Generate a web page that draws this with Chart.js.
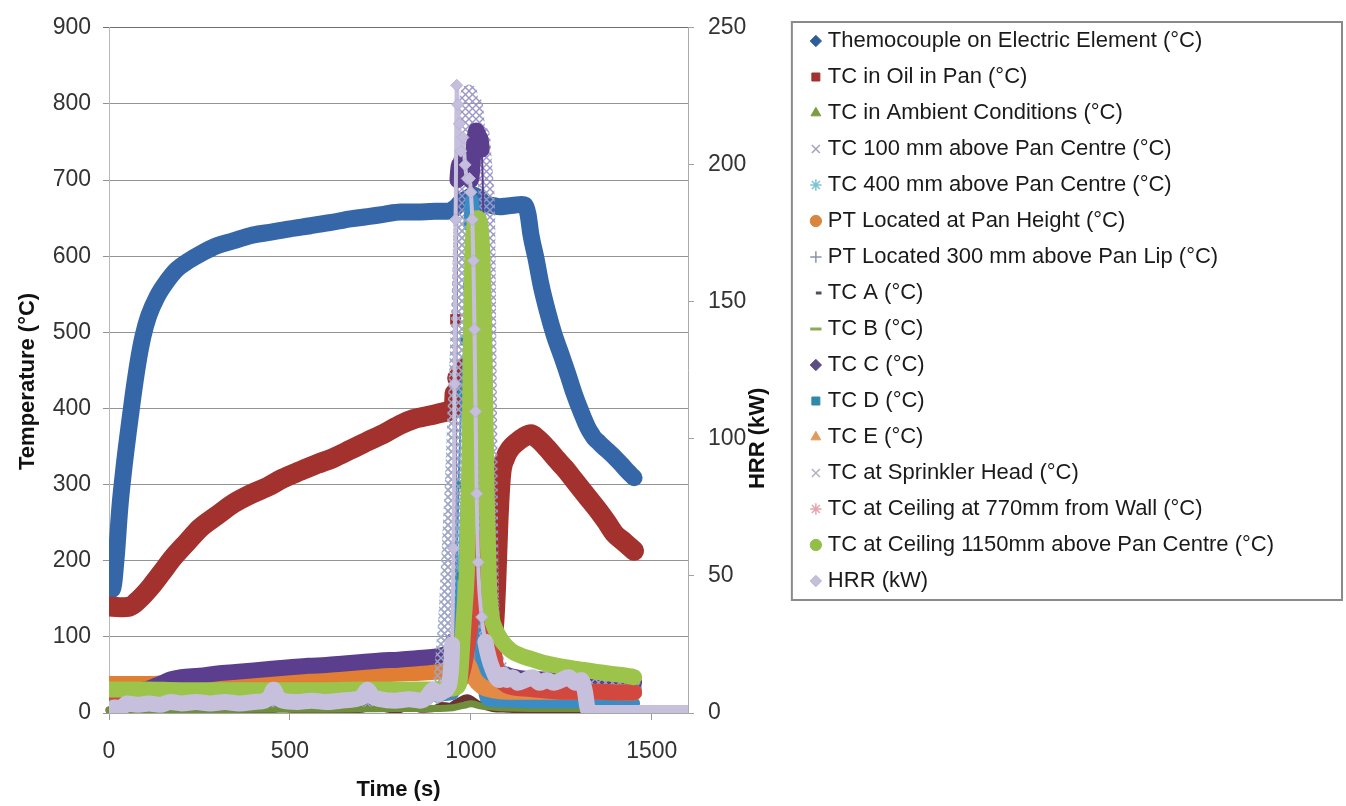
<!DOCTYPE html>
<html>
<head>
<meta charset="utf-8">
<title>Pan fire test - temperatures and HRR</title>
<script src="https://cdn.jsdelivr.net/npm/chart.js@4.4.1/dist/chart.umd.min.js"></script>
<style>
  html, body { margin: 0; padding: 0; background: #fff; }
  canvas { display: block; }
</style>
</head>
<body>
<canvas id="fireChart" width="1346" height="806"></canvas>
<script>
// x axis ticks (s)
const timeTicks = [0, 500, 1000, 1500];

// Themocouple on Electric Element
const tElement = [0, 10, 20, 30, 42, 55, 66, 80, 94, 110, 133, 160, 188, 220, 252, 300, 343, 390, 438, 500, 557, 610, 668, 715, 759, 806, 850, 900, 936, 955, 972, 990, 1008, 1025, 1040, 1055, 1080, 1100, 1119, 1140, 1150, 1158, 1166, 1180, 1194, 1212, 1230, 1250, 1268, 1285, 1305, 1324, 1334, 1341, 1350, 1365, 1379, 1397, 1415, 1432, 1451];
const element = [161, 163, 205, 270, 325, 375, 415, 460, 495, 522, 547, 567, 583, 594, 603, 614, 620, 627, 631, 636, 640, 644, 649, 652, 655, 658, 658, 659, 659, 663, 671, 676, 680, 675, 668, 667, 665, 666, 667, 668, 667, 655, 628, 597, 562, 527, 497, 470, 445, 420, 395, 374, 366, 361, 357, 350, 344, 336, 327, 318, 309];

// TC in oil in pan
const tOil = [0, 30, 58, 85, 114, 145, 177, 215, 252, 300, 343, 390, 438, 480, 529, 575, 620, 668, 715, 760, 806, 842, 890, 936, 950, 955, 958, 962, 970, 980, 990, 1000, 1008, 1014, 1020, 1028, 1040, 1055, 1064, 1070, 1076, 1083, 1095, 1110, 1125, 1145, 1166, 1185, 1210, 1235, 1258, 1285, 1320, 1352, 1375, 1396, 1425, 1451];
const oil = [140, 139, 140, 150, 165, 184, 204, 224, 243, 260, 275, 287, 297, 308, 318, 327, 335, 346, 357, 367, 379, 386, 391, 396, 399, 420, 517, 440, 445, 452, 455, 448, 430, 380, 260, 160, 110, 100, 115, 170, 250, 310, 335, 348, 355, 362, 366, 360, 348, 334, 322, 306, 285, 266, 251, 236, 224, 213];

// TC in ambient conditions
const tAmbient = [0, 150, 300, 450, 600, 750, 900, 950, 975, 1000, 1030, 1080, 1150, 1250, 1350, 1451];
const ambient = [27, 27, 28, 28, 29, 29, 30, 31, 45, 55, 45, 38, 35, 33, 32, 31];

// TC 100 mm above pan centre
const t100 = [0, 100, 200, 300, 400, 500, 600, 700, 800, 900, 920, 930, 936, 942, 948, 954, 960, 964, 968, 972, 976, 980, 985, 990, 995, 1000, 1005, 1010, 1015, 1020, 1025, 1030, 1035, 1040, 1045, 1048, 1051, 1054, 1058, 1065, 1080, 1100, 1200, 1300, 1451];
const tc100 = [18, 18, 19, 19, 20, 20, 21, 21, 22, 24, 30, 40, 80, 140, 200, 270, 350, 430, 520, 600, 680, 730, 780, 800, 815, 790, 760, 800, 780, 750, 720, 760, 730, 700, 650, 500, 350, 200, 120, 80, 60, 50, 42, 38, 35];

// TC 400 mm above pan centre
const t400 = [0, 150, 300, 450, 600, 750, 900, 945, 955, 965, 975, 985, 995, 1003, 1010, 1018, 1026, 1035, 1050, 1080, 1150, 1250, 1350, 1451];
const tc400 = [24, 24, 25, 25, 26, 26, 27, 30, 60, 180, 280, 380, 470, 490, 420, 300, 180, 100, 60, 45, 38, 34, 32, 30];

// PT at pan height
const tPtPan = [0, 50, 100, 150, 200, 260, 320, 380, 440, 500, 560, 620, 680, 740, 800, 860, 900, 940, 960, 975, 990, 1000, 1010, 1025, 1040, 1060, 1100, 1200, 1300, 1451];
const ptPan = [38, 38, 38, 39, 40, 41, 42, 43, 44, 46, 47, 48, 49, 50, 52, 53, 54, 56, 62, 70, 72, 65, 52, 42, 38, 35, 32, 30, 30, 29];

// PT 300 mm above pan lip
const tPt300 = [0, 200, 400, 600, 800, 900, 950, 970, 990, 1010, 1030, 1060, 1100, 1200, 1300, 1451];
const pt300 = [26, 26, 27, 28, 29, 30, 35, 60, 80, 70, 50, 38, 33, 30, 29, 28];

// TC A .. TC E
const tTcA = [0, 100, 200, 300, 400, 460, 480, 500, 600, 700, 720, 740, 760, 800, 820, 840, 860, 900, 920, 940, 960, 990, 1020, 1060, 1100, 1200, 1300, 1451];
const tcA = [4, 4, 3, 4, 4, 5, 9, 5, 4, 5, 9, 10, 6, 4, 8, 9, 5, 6, 10, 9, 14, 20, 12, 6, 5, 4, 4, 4];
const tTcB = [0, 200, 400, 600, 800, 900, 950, 980, 1000, 1030, 1080, 1200, 1300, 1451];
const tcB = [4, 4, 5, 5, 6, 6, 7, 10, 12, 9, 7, 6, 6, 5];
const tTcC = [0, 60, 100, 140, 170, 200, 250, 300, 350, 400, 450, 500, 550, 600, 650, 700, 750, 800, 850, 900, 930, 945, 952, 958, 963, 970, 980, 990, 1000, 1008, 1015, 1022, 1030, 1036, 1042, 1048, 1055, 1070, 1100, 1150, 1200, 1300, 1451];
const tcC = [29, 30, 31, 38, 44, 47, 49, 52, 54, 56, 58, 60, 62, 63, 65, 67, 69, 70, 72, 74, 77, 80, 95, 300, 700, 722, 733, 718, 700, 742, 765, 758, 740, 600, 300, 150, 90, 60, 50, 45, 44, 42, 40];
const tTcD = [0, 200, 400, 600, 800, 900, 950, 956, 960, 966, 974, 982, 990, 996, 1002, 1008, 1014, 1018, 1022, 1026, 1030, 1036, 1045, 1100, 1200, 1300, 1451];
const tcD = [20, 20, 21, 21, 22, 23, 25, 100, 180, 300, 420, 488, 560, 640, 675, 660, 560, 400, 250, 120, 60, 30, 17, 15, 14, 14, 13];
const tTcE = [0, 200, 400, 600, 800, 900, 950, 965, 980, 995, 1010, 1030, 1060, 1100, 1200, 1300, 1451];
const tcE = [28, 28, 29, 29, 30, 30, 34, 55, 68, 62, 45, 35, 30, 28, 28, 28, 27];

// TC at sprinkler head
const tSprinkler = [0, 100, 200, 300, 400, 500, 600, 700, 800, 900, 915, 920, 925, 930, 934, 938, 942, 946, 950, 954, 958, 962, 966, 970, 975, 980, 985, 990, 995, 1000, 1005, 1010, 1015, 1020, 1025, 1030, 1040, 1050, 1060, 1080, 1100, 1200, 1300, 1451];
const sprinkler = [16, 16, 17, 17, 18, 18, 19, 19, 20, 22, 25, 50, 80, 110, 140, 180, 220, 260, 300, 350, 400, 450, 500, 550, 600, 640, 600, 560, 500, 450, 400, 350, 300, 250, 200, 160, 120, 90, 70, 55, 48, 40, 36, 33];

// TC at ceiling, 770 mm from wall
const t770 = [0, 200, 400, 600, 800, 900, 950, 980, 1000, 1015, 1022, 1030, 1040, 1050, 1060, 1070, 1085, 1100, 1150, 1200, 1258, 1300, 1350, 1400, 1451];
const ceil770 = [28, 28, 29, 29, 30, 30, 32, 60, 120, 180, 210, 226, 200, 150, 95, 60, 42, 36, 32, 30, 28, 28, 28, 27, 27];

// TC at ceiling 1150 mm above pan centre
const t1150 = [0, 100, 200, 300, 400, 500, 600, 700, 800, 900, 950, 960, 968, 980, 990, 996, 1000, 1004, 1010, 1018, 1026, 1032, 1036, 1040, 1044, 1050, 1058, 1066, 1075, 1090, 1111, 1135, 1166, 1200, 1240, 1305, 1380, 1443, 1451];
const ceil1150 = [31, 31, 30, 30, 30, 30, 30, 31, 31, 31, 32, 34, 40, 120, 200, 330, 480, 600, 640, 650, 640, 600, 520, 400, 280, 170, 125, 112, 103, 92, 82, 76, 71, 66, 62, 57, 52, 48, 47];

// heat release rate (kW, right axis)
const tHrr = [0, 15, 30, 50, 80, 110, 140, 170, 200, 240, 280, 320, 360, 400, 430, 445, 455, 465, 480, 520, 560, 600, 640, 680, 700, 714, 728, 750, 790, 830, 860, 880, 895, 910, 925, 935, 942, 948, 952, 955, 958, 961, 964, 968, 972, 978, 984, 990, 996, 1000, 1004, 1007, 1010, 1013, 1016, 1020, 1030, 1040, 1050, 1060, 1070, 1080, 1090, 1100, 1115, 1130, 1150, 1170, 1190, 1210, 1230, 1250, 1270, 1290, 1305, 1315, 1322, 1330, 1360, 1400, 1450, 1500, 1550, 1600];
const hrr = [0.5, 2, 1.5, 3.5, 3, 3.5, 3, 4, 3.5, 4, 3.5, 4, 3.5, 4, 4.5, 6, 8.5, 6, 4.5, 4, 4.5, 4, 4.5, 5, 6, 8.5, 6, 5, 4.5, 5, 4.5, 6, 8.5, 7, 8, 9, 12, 25, 60, 120, 180, 229, 222, 215, 205, 210, 200, 195, 195, 190, 180, 165, 140, 110, 80, 55, 35, 26, 20, 16, 13, 12, 14, 12, 13, 11, 12, 13, 11, 12, 11, 12, 13, 11, 12, 8, 2, 0, 0, 0, 0, 0, 0, 0];

Chart.defaults.font.family = '"Liberation Sans", Arial, sans-serif';

const PLOT_RIGHT = 688;
const PAD_RIGHT = 62;
const CLEAR = 'rgba(0,0,0,0)';

// small X tile so the "x" marker series read as cross-hatching
function hatch(color) {
  const c = document.createElement('canvas');
  c.width = c.height = 7;
  const g = c.getContext('2d');
  g.strokeStyle = color;
  g.lineWidth = 1.4;
  g.beginPath();
  g.moveTo(0, 0); g.lineTo(7, 7);
  g.moveTo(7, 0); g.lineTo(0, 7);
  g.stroke();
  return g.createPattern(c, 'repeat');
}

function series(label, t, v, look) {
  return Object.assign({
    label,
    data: t.map((x, i) => ({ x, y: v[i] })),
    showLine: true,
    pointRadius: 0,
    pointHoverRadius: 0,
    pointBorderWidth: 1,
    borderWidth: 16,
    borderJoinStyle: 'round',
    borderCapStyle: 'round',
    cubicInterpolationMode: 'monotone'
  }, look);
}

// steep jumps are drawn thin: the original markers there are sparse
const thinWhenSteep = (limit, width) => c => (Math.abs(c.p1.parsed.y - c.p0.parsed.y) > limit ? width : undefined);
const bottomClip = { left: 8, top: 8, right: 8, bottom: 0 };

const datasets = [
  series('Themocouple on Electric Element (°C)', tElement, element, { borderColor: '#3567A8', borderWidth: 17, pointStyle: 'rectRot', pointBackgroundColor: '#2F5C9A', pointBorderColor: '#2F5C9A' }),
  series('TC in Oil in Pan (°C)', tOil, oil, {
    borderColor: '#A3312D', borderWidth: 20, pointStyle: 'rect', pointBackgroundColor: '#A3312D', pointBorderColor: '#A3312D',
    // the lone high reading at the flare-up shows as one square marker
    pointRadius: c => (c.raw && c.raw.y > 470 ? 7 : 0),
    segment: { borderColor: c => (Math.max(c.p0.parsed.y, c.p1.parsed.y) > 470 ? CLEAR : undefined) }
  }),
  series('TC in Ambient Conditions (°C)', tAmbient, ambient, { borderColor: '#8EB44C', pointStyle: 'triangle', pointBackgroundColor: '#7C9C44', pointBorderColor: '#7C9C44' }),
  series('TC 100 mm above Pan Centre (°C)', t100, tc100, { borderColor: hatch('#9A96C8'), borderWidth: 16, pointStyle: 'crossRot', pointBorderColor: '#A3A0C4', pointBorderWidth: 1.5 }),
  series('TC 400 mm above Pan Centre (°C)', t400, tc400, { borderColor: '#5DB4CB', borderWidth: 9, pointStyle: 'star', pointBorderColor: '#7CC3D3', pointBorderWidth: 1.5, segment: { borderWidth: thinWhenSteep(60, 2) } }),
  series('PT Located at Pan Height (°C)', tPtPan, ptPan, { borderColor: '#E17E33', pointStyle: 'circle', pointBackgroundColor: '#D9853E', pointBorderColor: '#D9853E' }),
  series('PT Located 300 mm above Pan Lip (°C)', tPt300, pt300, { borderColor: '#7F8FAE', pointStyle: 'cross', pointBorderColor: '#8A94A8', pointBorderWidth: 1.5 }),
  series('TC A (°C)', tTcA, tcA, { borderColor: '#6B3431', borderWidth: 7, pointStyle: 'dash', pointBorderColor: '#4E4E5E', pointBorderWidth: 3, clip: bottomClip }),
  series('TC B (°C)', tTcB, tcB, { borderColor: '#6F8F3A', borderWidth: 7, pointStyle: 'line', pointBorderColor: '#8FAA55', pointBorderWidth: 3, clip: bottomClip }),
  series('TC C (°C)', tTcC, tcC, { borderColor: '#5B3E8D', pointStyle: 'rectRot', pointBackgroundColor: '#5E4D80', pointBorderColor: '#5E4D80', segment: { borderWidth: thinWhenSteep(120, 2) } }),
  series('TC D (°C)', tTcD, tcD, {
    borderColor: '#3B8CC4', borderWidth: 12, pointStyle: 'rect', pointBackgroundColor: '#2E8AA6', pointBorderColor: '#2E8AA6',
    pointRadius: c => (c.raw && c.raw.y > 150 && c.raw.y < 600 ? 5 : 0),
    segment: { borderWidth: thinWhenSteep(60, 2) }
  }),
  series('TC E (°C)', tTcE, tcE, { borderColor: '#E38A45', pointStyle: 'triangle', pointBackgroundColor: '#E09A5C', pointBorderColor: '#E09A5C' }),
  series('TC at Sprinkler Head (°C)', tSprinkler, sprinkler, { borderColor: hatch('#9DA7C6'), borderWidth: 16, pointStyle: 'crossRot', pointBorderColor: '#B0B0C0', pointBorderWidth: 1.5 }),
  series('TC at Ceiling at 770mm from Wall (°C)', t770, ceil770, { borderColor: '#D2483F', pointStyle: 'star', pointBorderColor: '#E8A3B0', pointBorderWidth: 1.5 }),
  series('TC at Ceiling 1150mm above Pan Centre (°C)', t1150, ceil1150, { borderColor: '#9CC44A', pointStyle: 'circle', pointBackgroundColor: '#92BF48', pointBorderColor: '#92BF48' }),
  series('HRR (kW)', tHrr, hrr, {
    yAxisID: 'y2',
    borderColor: '#C7C0DD',
    borderWidth: 16,
    pointStyle: 'rectRot',
    pointBackgroundColor: '#C5BEDC',
    pointBorderColor: '#B9B2D4',
    // during the flare-up the readings are scattered diamonds, not a solid band
    pointRadius: c => (c.raw && c.raw.y > 30 ? 6 : 0),
    segment: { borderWidth: c => (Math.max(c.p0.parsed.y, c.p1.parsed.y) > 30 ? 4 : undefined) }
  })
];
// Excel paints later series on top; Chart.js paints low "order" last
datasets.forEach((d, i) => { d.order = datasets.length - 1 - i; });

// frame round the legend
const legendFrame = {
  id: 'legendFrame',
  afterDraw(chart) {
    const boxes = chart.legend.legendHitBoxes;
    if (!boxes || !boxes.length) return;
    const first = boxes[0];
    const last = boxes[boxes.length - 1];
    const left = first.left - 23;
    const top = first.top - 8;
    const bottom = last.top + last.height + 8;
    const { ctx } = chart;
    ctx.save();
    ctx.strokeStyle = '#8a8a8a';
    ctx.lineWidth = 2;
    ctx.strokeRect(left, top, chart.width - 4 - left, bottom - top);
    ctx.restore();
  }
};

// vertical axis titles, both reading bottom to top
const sideTitles = {
  id: 'sideTitles',
  afterDraw(chart) {
    const { ctx, chartArea } = chart;
    const mid = (chartArea.top + chartArea.bottom) / 2;
    ctx.save();
    ctx.font = 'bold 22px "Liberation Sans", Arial, sans-serif';
    ctx.fillStyle = '#111';
    ctx.textAlign = 'center';
    ctx.textBaseline = 'middle';
    [[chartArea.left - 81, mid + 11, 'Temperature (°C)'], [chartArea.right + 70, mid + 68, 'HRR (kW)']].forEach(([x, y, text]) => {
      ctx.save();
      ctx.translate(x, y);
      ctx.rotate(-Math.PI / 2);
      ctx.fillText(text, 0, 0);
      ctx.restore();
    });
    ctx.restore();
  }
};

new Chart(document.getElementById('fireChart'), {
  type: 'scatter',
  data: { datasets },
  options: {
    responsive: false,
    animation: false,
    devicePixelRatio: 1,
    layout: { padding: { top: 16, right: PAD_RIGHT, bottom: 0, left: 0 } },
    plugins: {
      tooltip: { enabled: false },
      legend: {
        position: 'right',
        align: 'start',
        maxWidth: 620,
        labels: {
          usePointStyle: true,
          boxWidth: 2,
          boxHeight: 8,
          padding: 14,
          color: '#1a1a1a',
          font: { size: 22 },
          sort: (a, b) => a.datasetIndex - b.datasetIndex
        }
      }
    },
    scales: {
      x: {
        type: 'linear',
        min: 0,
        max: 1600,
        afterBuildTicks: s => { s.ticks = timeTicks.map(v => ({ value: v })); },
        afterFit: s => { s.height = 93; },
        grid: { drawOnChartArea: false, tickLength: 7, color: '#9a9a9a' },
        border: { color: '#a6a6a6' },
        ticks: { font: { size: 23 }, color: '#333', padding: 18, maxRotation: 0, callback: v => String(v) },
        title: { display: true, text: 'Time (s)', color: '#111', font: { size: 22, weight: 'bold' }, padding: { top: 0, bottom: 3 } }
      },
      y: {
        position: 'left',
        min: 0,
        max: 900,
        afterFit: s => { s.width = 109; s.paddingTop = 25; },
        grid: { color: c => (c.tick && c.tick.value === 900 ? '#6f6f6f' : '#939393'), tickLength: 6 },
        border: { color: '#b9b9b9' },
        ticks: { stepSize: 100, font: { size: 23 }, color: '#333', padding: 12 }
      },
      y2: {
        position: 'right',
        min: 0,
        max: 250,
        afterFit: s => { s.width = s.chart.width - PAD_RIGHT - s.chart.legend.width - PLOT_RIGHT; },
        grid: { drawOnChartArea: false, tickLength: 6, color: '#a0a0a0' },
        border: { color: '#ababab' },
        ticks: { stepSize: 50, font: { size: 23 }, color: '#333', padding: 14 }
      }
    }
  },
  plugins: [legendFrame, sideTitles]
});
</script>
</body>
</html>
